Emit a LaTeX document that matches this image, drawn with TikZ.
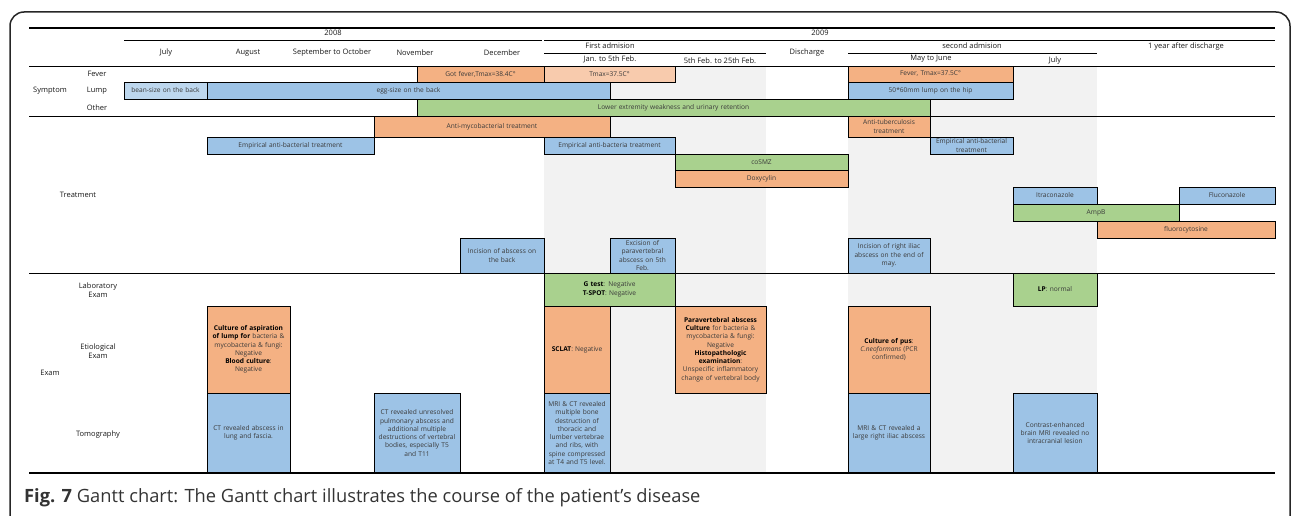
\documentclass[tikz,border=0pt]{standalone}
\usepackage{fontspec}
\setmainfont{Open Sans}
\definecolor{cor}{HTML}{F4B183}
\definecolor{corl}{HTML}{F8CBAD}
\definecolor{cbl}{HTML}{9DC3E6}
\definecolor{cbll}{HTML}{BDD7EE}
\definecolor{cgr}{HTML}{A9D18E}
\definecolor{cgy}{HTML}{F2F2F2}
\definecolor{ctx}{HTML}{3A3A3A}
\tikzset{
  gbox/.style={draw=black, line width=0.8pt, inner sep=1pt, outer sep=0pt,
    font=\fontsize{6.6}{8.3}\selectfont, text=ctx, align=center},
  hdr/.style={font=\fontsize{7.5}{9}\selectfont, text=black!90, inner sep=0pt, align=center},
  rule/.style={line width=0.8pt, black},
  thickrule/.style={line width=2pt, black}
}
\newcommand\gb[7]{%
  \pgfmathsetlengthmacro\gbw{(#4-#2)*1pt}%
  \pgfmathsetlengthmacro\gbh{(#5-#3)*1pt}%
  \pgfmathsetlengthmacro\gbt{(#4-#2-2)*1pt}%
  \node[gbox,fill=#6,minimum width=\gbw,minimum height=\gbh,text width=\gbt] (#1) at ({(#2+#4)/2},{(#3+#5)/2}) {#7};}
\begin{document}
\begin{tikzpicture}[x=1pt,y=-1pt]
\useasboundingbox (0,0) rectangle (1292,516);
% frame
\draw[line width=1.5pt, black!85, rounded corners=14pt] (10,530) -- (10,12) -- (1290,12) -- (1290,530);
% grey periods
\fill[cgy] (544,66) rectangle (766,473);
\fill[cgy] (848,66) rectangle (1097,473);
% rules
\draw[thickrule] (29,28) -- (1275,28);
\draw[rule] (124,40) -- (542,40);
\draw[rule] (544,40) -- (1275,40);
\draw[rule] (544,53) -- (766,53);
\draw[rule] (848,53) -- (1097,53);
\draw[rule] (29,66) -- (1275,66);
\draw[rule] (29,116) -- (1275,116);
\draw[rule] (29,273) -- (1275,273);
% headers
\node[hdr] (y8) at (333,33) {2008};
\node[hdr] (y9) at (820,33) {2009};
\node[hdr] (m1) at (166,53) {July};
\node[hdr] (m2) at (248,53) {August};
\node[hdr] (m3) at (332,53) {September to October};
\node[hdr] (m4) at (415,53) {November};
\node[hdr] (m5) at (502,53) {December};
\node[hdr] (fa) at (610,46) {First admision};
\node[hdr] (m6) at (610,59) {Jan. to 5th Feb.};
\node[hdr] (m7) at (720,61) {5th Feb. to 25th Feb.};
\node[hdr] (m8) at (807,53) {Discharge};
\node[hdr] (sa) at (972,46) {second admision};
\node[hdr] (m9) at (931,59) {May to June};
\node[hdr] (m10) at (1055,61) {July};
\node[hdr] (m11) at (1186,47) {1 year after discharge};
% row labels
\node[hdr] (lsym) at (50,91) {Symptom};
\node[hdr] (lfev) at (97,74) {Fever};
\node[hdr] (llmp) at (97,91) {Lump};
\node[hdr] (loth) at (97,108) {Other};
\node[hdr] (ltre) at (78,195) {Treatment};
\node[hdr] (llab) at (98,290) {Laboratory\\Exam};
\node[hdr] (leti) at (98,351) {Etiological\\Exam};
\node[hdr] (lexa) at (50,373) {Exam};
\node[hdr] (ltom) at (98,435) {Tomography};
% symptom bars
\gb{fev1}{417}{66}{544}{82}{cor}{Got fever,Tmax=38.4C°}
\gb{fev2}{544}{66}{675}{82}{corl}{Tmax=37.5C°}
\gb{fev3}{848}{66}{1013}{82}{cor}{Fever, Tmax=37.5C°}
\gb{lmp1}{124}{82}{207}{99}{cbll}{bean-size on the back}
\gb{lmp2}{207}{82}{610}{99}{cbl}{egg-size on the back}
\gb{lmp3}{848}{82}{1013}{99}{cbl}{50*60mm lump on the hip}
\gb{oth}{417}{99}{930}{116}{cgr}{Lower extremity weakness and urinary retention}
% treatment bars
\gb{tr1}{374}{116}{610}{137}{cor}{Anti-mycobacterial treatment}
\gb{tr2}{848}{116}{930}{137}{cor}{Anti-tuberculosis\\treatment}
\gb{tr3}{207}{137}{374}{154}{cbl}{Empirical anti-bacterial treatment}
\gb{tr4}{544}{137}{675}{154}{cbl}{Empirical anti-bacteria treatment}
\gb{tr5}{930}{137}{1013}{154}{cbl}{Empirical anti-bacterial\\treatment}
\gb{tr6}{675}{154}{848}{170}{cgr}{coSMZ}
\gb{tr7}{675}{170}{848}{187}{cor}{Doxycylin}
\gb{tr8}{1013}{187}{1097}{204}{cbl}{Itraconazole}
\gb{tr9}{1179}{187}{1275}{204}{cbl}{Fluconazole}
\gb{tr10}{1013}{204}{1179}{221}{cgr}{AmpB}
\gb{tr11}{1097}{221}{1275}{238}{cor}{fluorocytosine}
\gb{tr12}{460}{238}{544}{273}{cbl}{Incision of abscess on\\the back}
\gb{tr13}{610}{238}{675}{273}{cbl}{Excision of\\paravertebral\\abscess on 5th\\Feb.}
\gb{tr14}{848}{238}{930}{273}{cbl}{Incision of right iliac\\abscess on the end of\\may.}
% exam boxes
\gb{ex1}{544}{273}{675}{306}{cgr}{\textcolor{black}{\textbf{G test}}: Negative\\\textcolor{black}{\textbf{T-SPOT}}: Negative}
\gb{ex2}{1013}{273}{1097}{306}{cgr}{\textcolor{black}{\textbf{LP}}: normal}
\gb{ex3}{207}{306}{290}{393}{cor}{\textcolor{black}{\textbf{Culture of aspiration\\of lump for}} bacteria \&\\mycobacteria \& fungi:\\Negative\\\textcolor{black}{\textbf{Blood culture}}:\\Negative}
\gb{ex4}{544}{306}{610}{393}{cor}{\textcolor{black}{\textbf{SCLAT}}: Negative}
\gb{ex5}{675}{306}{766}{393}{cor}{\textcolor{black}{\textbf{Paravertebral abscess}}\\\textcolor{black}{\textbf{Culture}} for bacteria \&\\mycobacteria \& fungi:\\Negative\\\textcolor{black}{\textbf{Histopathologic}}\\\textcolor{black}{\textbf{examination}}:\\Unspecific inflammatory\\change of vertebral body}
\gb{ex6}{848}{306}{930}{393}{cor}{\textcolor{black}{\textbf{Culture of pus}}:\\\textit{C.neoformans} (PCR\\confirmed)}
\gb{ex7}{207}{393}{290}{473}{cbl}{CT revealed abscess in\\lung and fascia.}
\gb{ex8}{374}{393}{460}{473}{cbl}{CT revealed unresolved\\pulmonary abscess and\\additional multiple\\destructions of vertebral\\bodies, especially T5\\and T11}
\gb{ex9}{544}{393}{610}{473}{cbl}{MRI \& CT revealed\\multiple bone\\destruction of\\thoracic and\\lumber vertebrae\\and ribs, with\\spine compressed\\at T4 and T5 level.}
\gb{ex10}{848}{393}{930}{473}{cbl}{MRI \& CT revealed a\\large right iliac abscess}
\gb{ex11}{1013}{393}{1097}{473}{cbl}{Contrast-enhanced\\brain MRI revealed no\\intracranial lesion}
\draw[thickrule] (29,473) -- (1275,473);
% caption
\node[anchor=base west, inner sep=0pt, font=\fontsize{18.3}{21}\selectfont, text=black!80] (cap) at (24,502) {\textbf{Fig. 7} Gantt chart: The Gantt chart illustrates the course of the patient’s disease};
\end{tikzpicture}
\end{document}
